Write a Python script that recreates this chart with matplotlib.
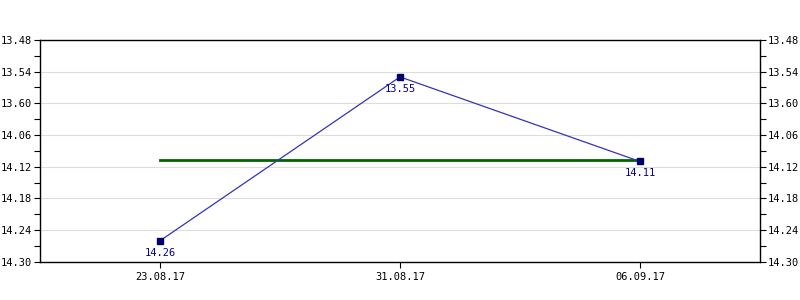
import numpy as np
import matplotlib.pyplot as plt
from matplotlib.ticker import AutoMinorLocator

# Dados do gráfico
datas = ['23.08.17', '31.08.17', '06.09.17']
valores = [14.26, 13.55, 14.11]
rotulos_y = ['13.48', '13.54', '13.60', '14.06', '14.12', '14.18', '14.24', '14.30']


# Converte "mm.ss" para segundos
def para_segundos(v):
    inteiro = int(v)
    return inteiro * 60 + round((v - inteiro) * 100)


y_seg = [para_segundos(v) for v in valores]
media = np.mean(y_seg)
# 13.60 no rótulo corresponde a 14.00 na escala
ticks_y = [para_segundos(float(r)) if r != '13.60' else para_segundos(14.00) for r in rotulos_y]
x = np.arange(len(datas))

plt.rcParams['font.family'] = 'DejaVu Sans Mono'
fig = plt.figure(figsize=(8, 3), dpi=100)
ax = fig.add_axes([0.05, 0.127, 0.9, 0.74])

ax.plot(x, y_seg, color='#3333bb', lw=0.9, zorder=3)
ax.plot(x, y_seg, 's', color='#000066', ms=4, zorder=4)
ax.plot([x[0], x[-1]], [media, media], color='#006600', lw=2, zorder=2)

for xi, yi, v in zip(x, y_seg, valores):
    ax.annotate(f'{v:.2f}', (xi, yi), xytext=(0, -5), textcoords='offset points',
                ha='center', va='top', color='#000099', fontsize=7.5)

ax.set_xlim(-0.5, len(datas) - 0.5)
ax.set_ylim(ticks_y[-1], ticks_y[0])
ax.set_xticks(x)
ax.set_xticklabels(datas, fontsize=7.5)
ax.set_yticks(ticks_y)
ax.set_yticklabels(rotulos_y, fontsize=7.5)
ax.yaxis.set_minor_locator(AutoMinorLocator(2))
ax.tick_params(axis='y', which='both', left=True, right=True, labelleft=True, labelright=True,
               direction='out', length=4, width=0.8, pad=1.5)
ax.tick_params(axis='x', direction='out', length=4, width=0.8, pad=3)
ax.grid(axis='y', color='#dddddd', lw=0.8)
ax.set_axisbelow(True)
for s in ax.spines.values():
    s.set_linewidth(1)

plt.savefig('out.png')
